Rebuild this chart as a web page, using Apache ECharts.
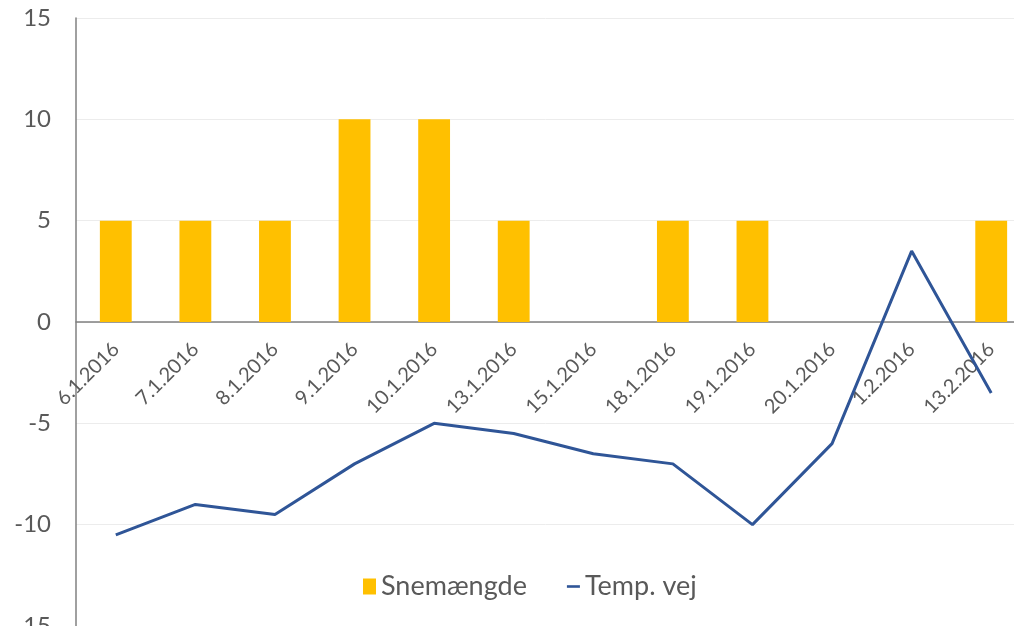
<!DOCTYPE html>
<html>
<head>
<meta charset="utf-8">
<script src="https://cdn.jsdelivr.net/npm/echarts@6/dist/echarts.min.js"></script>
<style>html,body{margin:0;padding:0;background:#fff}#c{width:1014px;height:626px}</style>
</head>
<body>
<div id="c"></div>
<script>
const categories = ['6.1.2016','7.1.2016','8.1.2016','9.1.2016','10.1.2016','13.1.2016','15.1.2016','18.1.2016','19.1.2016','20.1.2016','1.2.2016','13.2.2016'];
const snemaengde = [5,5,5,10,10,5,0,5,5,0,0,5];
const tempVej = [-10.5,-9,-9.5,-7,-5,-5.5,-6.5,-7,-10,-6,3.5,-3.5];
const yTicks = [-15,-10,-5,0,5,10,15];

const FONT = 'Lato';
const chart = echarts.init(document.getElementById('c'));
chart.setOption({
  animation: false,
  backgroundColor: '#ffffff',
  grid: { left: 76, right: -17, top: 18, bottom: 0, containLabel: false, outerBoundsMode: 'none' },
  legend: {
    top: 573, left: 363, padding: 0,
    itemWidth: 13, itemHeight: 16, itemGap: 40,
    textStyle: { fontFamily: FONT, fontSize: 27, color: '#595959' },
    data: [
      { name: 'Snemængde', icon: 'rect' },
      { name: 'Temp. vej', icon: 'path://M0,0H20V4H0Z' }
    ]
  },
  xAxis: {
    type: 'category',
    data: categories,
    offset: -304,
    axisLine: { onZero: false, lineStyle: { color: '#808080', width: 1.5 } },
    axisTick: { show: false },
    axisLabel: { rotate: 45, margin: 24, fontFamily: FONT, fontSize: 20, color: '#595959', interval: 0 },
    splitLine: { show: false }
  },
  yAxis: {
    type: 'value',
    min: yTicks[0], max: yTicks[yTicks.length - 1], interval: 5,
    axisLine: { show: true, onZero: false, lineStyle: { color: '#808080', width: 1.5 } },
    axisTick: { show: false },
    axisLabel: { margin: 25, fontFamily: FONT, fontSize: 24, color: '#595959' },
    splitLine: { lineStyle: { color: '#ececec', width: 1 } }
  },
  series: [
    {
      name: 'Snemængde', type: 'bar', data: snemaengde,
      barWidth: '40%',
      itemStyle: { color: '#FFC000' }
    },
    {
      name: 'Temp. vej', type: 'line', data: tempVej,
      symbol: 'none',
      lineStyle: { color: '#2F5597', width: 3 },
      itemStyle: { color: '#2F5597' }
    }
  ]
});
</script>
</body>
</html>
